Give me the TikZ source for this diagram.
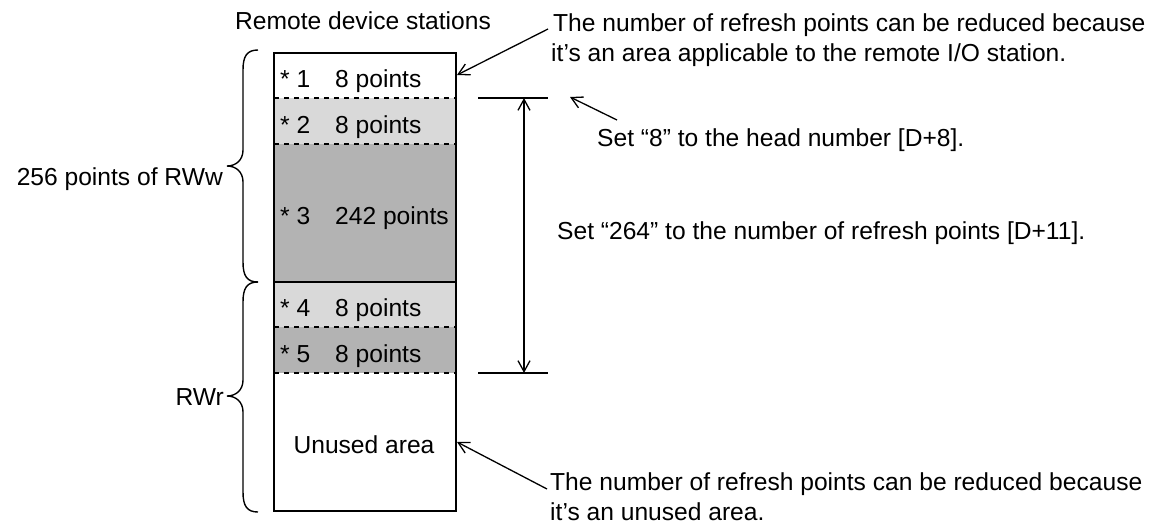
\documentclass[tikz,border=0pt]{standalone}
\usepackage{fontspec}
\setmainfont{Liberation Sans}
\usetikzlibrary{arrows.meta}
\definecolor{lightrow}{HTML}{D9D9D9}
\definecolor{darkrow}{HTML}{B3B3B3}
\begin{document}
\begin{tikzpicture}[x=1pt,y=-1pt,
  txt/.style={font=\fontsize{24.6}{30}\selectfont, inner sep=0pt, anchor=base west},
  sepline/.style={line width=2.6pt, dash pattern=on 5pt off 5pt},
  boxline/.style={line width=2.4pt},
  arr/.style={line width=1.3pt, -{Straight Barb[length=11pt,width=12pt]}},
  dimarr/.style={line width=1.3pt, {Straight Barb[length=11pt,width=12pt]}-{Straight Barb[length=11pt,width=12pt]}},
  thin/.style={line width=1.3pt},
  bracestyle/.style={line width=1.4pt},
  ]
\useasboundingbox (0,0) rectangle (1173,523);

% row fills
\fill[lightrow] (274,98) rectangle (456,144);
\fill[darkrow] (274,144) rectangle (456,282);
\fill[lightrow] (274,282) rectangle (456,327);
\fill[darkrow] (274,327) rectangle (456,373);

% separators
\draw[sepline] (274,98) -- (456,98);
\draw[sepline] (274,144) -- (456,144);
\draw[boxline] (274,282) -- (456,282);
\draw[sepline] (274,327) -- (456,327);
\draw[sepline] (274,373) -- (456,373);

% box
\draw[boxline] (274,53) rectangle (456,511);

% row labels
\node[txt] (r1) at (280,87) {\makebox[55pt][l]{* 1}8 points};
\node[txt] (r2) at (280,133) {\makebox[55pt][l]{* 2}8 points};
\node[txt] (r3) at (280,224) {\makebox[55pt][l]{* 3}242 points};
\node[txt] (r4) at (280,316) {\makebox[55pt][l]{* 4}8 points};
\node[txt] (r5) at (280,362) {\makebox[55pt][l]{* 5}8 points};
\node[txt, anchor=base] (unused) at (364,453) {Unused area};

% header
\node[txt] (hdr) at (235,29) {Remote device stations};

% braces
\coordinate (b1t) at (258,50);
\coordinate (b1b) at (258,282);
\coordinate (b2b) at (258,512);
\draw[bracestyle] (b1t) .. controls (247,50) and (243,56) .. (243,70)
  -- (243,150) .. controls (243,160) and (236,166) .. (227,166)
  .. controls (236,166) and (243,172) .. (243,182)
  -- (243,262) .. controls (243,276) and (247,282) .. (b1b);
\draw[bracestyle] (b1b) .. controls (247,282) and (243,288) .. (243,302)
  -- (243,380) .. controls (243,390) and (236,396) .. (227,396)
  .. controls (236,396) and (243,402) .. (243,412)
  -- (243,492) .. controls (243,506) and (247,512) .. (b2b);
\node[txt, anchor=base east] (rww) at (223,185) {256 points of RWw};
\node[txt, anchor=base east] (rwr) at (224,405) {RWr};

% dimension
\coordinate (dl1) at (478,98);
\coordinate (dr1) at (548,98);
\coordinate (dl2) at (478,373);
\coordinate (dr2) at (548,373);
\coordinate (dt) at (524,98);
\coordinate (db) at (524,373);
\draw[thin] (dl1) -- (dr1);
\draw[thin] (dl2) -- (dr2);
\draw[dimarr] (dt) -- (db);

% notes
\node[txt] (n1a) at (553,31) {The number of refresh points can be reduced because};
\node[txt] (n1b) at (551,61) {it’s an area applicable to the remote I/O station.};
\coordinate (n1s) at (548,29);
\coordinate (n1e) at (457,75);
\draw[arr] (n1s) -- (n1e);

\node[txt] (n2) at (597,146) {Set “8” to the head number [D+8].};
\coordinate (n2s) at (617,120);
\coordinate (n2e) at (570,97);
\draw[arr] (n2s) -- (n2e);

\node[txt] (n3) at (557,239) {Set “264” to the number of refresh points [D+11].};

\node[txt] (n4a) at (550,490) {The number of refresh points can be reduced because};
\node[txt] (n4b) at (550,520) {it’s an unused area.};
\coordinate (n4s) at (547,489);
\coordinate (n4e) at (457,442);
\draw[arr] (n4s) -- (n4e);
\end{tikzpicture}
\end{document}
